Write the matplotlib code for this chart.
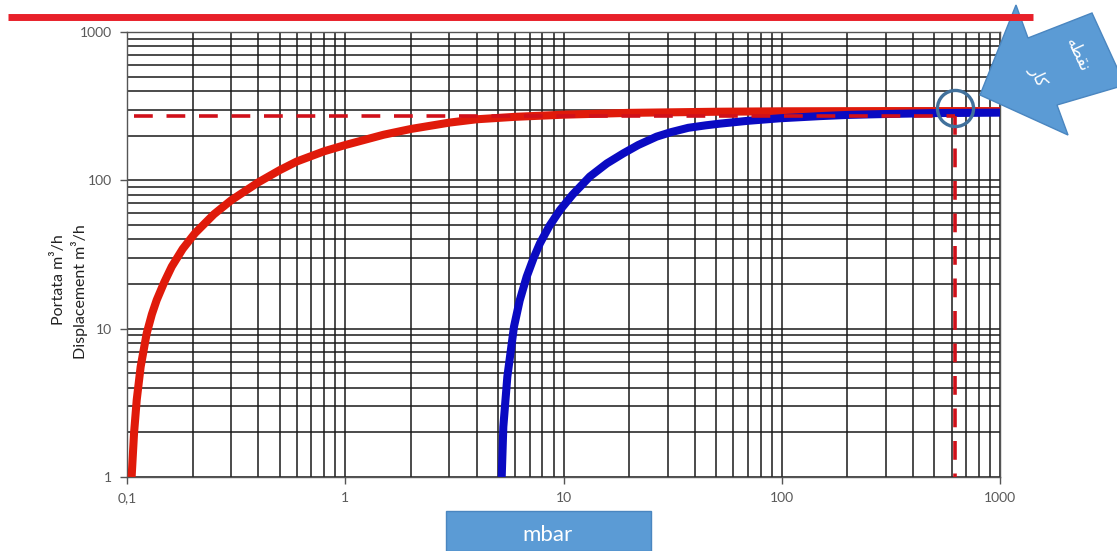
import matplotlib
matplotlib.use("Agg")
import matplotlib.pyplot as plt
from matplotlib.lines import Line2D
from matplotlib.patches import Polygon, Rectangle
from matplotlib.ticker import FixedLocator, LogLocator, NullFormatter

# ---- data ----
red_p = [0.105, 0.1077, 0.1108, 0.1155, 0.1231, 0.130, 0.1368, 0.148, 0.1603,
         0.180, 0.2049, 0.250, 0.3014, 0.40, 0.50, 0.60, 0.80, 1.0, 1.5, 2.0,
         3.0, 4.0, 6.0, 10, 20, 50, 100, 300, 1000]
red_q = [1.0, 1.97, 3.31, 5.54, 9.3, 12.5, 15.6, 20.5, 26.2,
         34.5, 44, 59, 73.7, 97, 117, 134, 157, 173, 203, 222,
         245, 258, 268, 277, 285, 290, 292, 293, 293]

blue_p = [5.21, 5.30, 5.53, 5.93, 6.30, 6.78, 7.30, 7.80, 8.60, 9.64, 11.0,
          13.2, 15.8, 18.8, 22.0, 26.7, 31.0, 37.3, 45, 52, 70, 98, 150,
          200, 300, 500, 1000]
blue_q = [1.0, 2.18, 4.75, 10.3, 15.5, 22.4, 30.0, 37.6, 49, 63.1, 80,
          106, 130, 152, 173, 197, 211, 226, 235, 241, 252, 262, 271,
          276, 280, 284, 286]

work_p = 620     # operating point pressure
work_q = 270     # operating point flow (dashed guide)
circle_q = 307   # centre of the highlight circle

x_ticks = [0.1, 1, 10, 100, 1000]
x_tick_labels = ["0,1", "1", "10", "100", "1000"]
y_ticks = [1, 10, 100, 1000]
y_tick_labels = ["1", "10", "100", "1000"]

W, H = 1117, 551
fig = plt.figure(figsize=(W / 100, H / 100), dpi=100)
fig.patch.set_facecolor("white")

L, R, T, B = 127, 1000, 32, 477
ax = fig.add_axes([L / W, 1 - B / H, (R - L) / W, (B - T) / H])
ax.set_xscale("log")
ax.set_yscale("log")
ax.set_xlim(0.1, 1000)
ax.set_ylim(1, 1000)

ax.xaxis.set_major_locator(FixedLocator(x_ticks))
ax.yaxis.set_major_locator(FixedLocator(y_ticks))
ax.xaxis.set_minor_locator(LogLocator(base=10, subs=range(2, 10), numticks=20))
ax.yaxis.set_minor_locator(LogLocator(base=10, subs=range(2, 10), numticks=20))
ax.xaxis.set_minor_formatter(NullFormatter())
ax.yaxis.set_minor_formatter(NullFormatter())
ax.set_xticklabels(x_tick_labels)
ax.set_yticklabels(y_tick_labels)

ax.grid(True, which="both", color="#1a1a1a", linewidth=1.1)
ax.set_axisbelow(True)
for s in ax.spines.values():
    s.set_color("#555555")
    s.set_linewidth(1.0)

ax.tick_params(which="major", direction="out", length=5, width=1, color="#555555",
               labelsize=10, labelcolor="#595959", pad=6)
ax.tick_params(which="minor", length=0)
for lab in ax.get_xticklabels() + ax.get_yticklabels():
    lab.set_family("Lato")

# curves
ax.plot(red_p, red_q, color="#e01a0a", linewidth=5.8, solid_capstyle="butt",
        solid_joinstyle="round", zorder=3)
ax.plot(blue_p, blue_q, color="#0a0ac2", linewidth=5.8, solid_capstyle="butt",
        solid_joinstyle="round", zorder=4)

# dashed guides to operating point
ax.plot([0.108, work_p], [work_q, work_q], color="#d0101a", linewidth=2.6,
        linestyle=(0, (5.2, 3.8)), zorder=5)
ax.plot([work_p, work_p], [work_q, 1], color="#d0101a", linewidth=2.6,
        linestyle=(0, (5.2, 3.8)), zorder=5)
ax.plot([work_p], [circle_q], marker="o", markersize=26, markerfacecolor="none",
        markeredgecolor="#41719c", markeredgewidth=2.4, zorder=6, clip_on=False)

# y-label (two lines)
fig.text(59 / W, 1 - 280 / H, "Portata m\u00b3/h", rotation=90, ha="center", va="center",
         family="Lato", size=11.5, color="#222222")
fig.text(80 / W, 1 - 292 / H, "Displacement m\u00b3/h", rotation=90, ha="center", va="center",
         family="Lato", size=11.5, color="#222222")

# top red bar
fig.add_artist(Line2D([8 / W, 1033 / W], [1 - 17 / H, 1 - 17 / H], color="#e8202a",
                      linewidth=5.0, solid_capstyle="butt"))

# mbar box
fig.add_artist(Rectangle((446 / W, 0), (651 - 446) / W, (H - 511) / H,
                         transform=fig.transFigure, facecolor="#5b9bd5",
                         edgecolor="#4a86c0", linewidth=1))
fig.text(548 / W, 1 - 535 / H, "mbar", ha="center", va="center", family="Lato",
         size=16, color="white")

# big arrow pointing at the operating point
arrow_px = [(980, 95), (1016, 5), (1028, 38), (1092, 13), (1125, 85),
            (1057, 105), (1068, 135)]
fig.add_artist(Polygon([(x / W, 1 - y / H) for x, y in arrow_px], closed=True,
                       transform=fig.transFigure, facecolor="#5b9bd5",
                       edgecolor="#4a86c0", linewidth=1, clip_on=False))
# Persian text "نقطه کار" in shaped presentation forms (visual order)
fig.text(1078 / W, 1 - 55 / H, "\ufeea\ufec4\ufed8\ufee7", rotation=-65, ha="center",
         va="center", family="DejaVu Sans", size=12, color="white")
fig.text(1038 / W, 1 - 76 / H, "\ufead\ufe8e\ufb90", rotation=-65, ha="center",
         va="center", family="DejaVu Sans", size=12, color="white")

fig.savefig("out.png", dpi=100)
